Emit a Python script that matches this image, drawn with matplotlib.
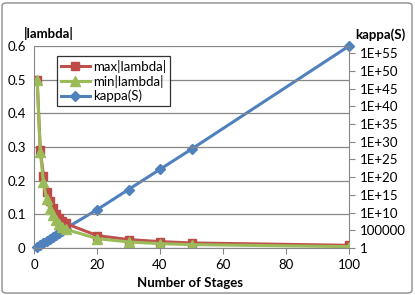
import matplotlib
matplotlib.use("Agg")
import matplotlib.pyplot as plt
from matplotlib.patches import FancyBboxPatch
import numpy as np

stages = [1, 2, 3, 4, 5, 6, 7, 8, 9, 10, 20, 30, 40, 50, 100]
max_lambda = [0.5, 0.29, 0.215, 0.165, 0.14, 0.12, 0.102, 0.09, 0.08, 0.073,
              0.037, 0.025, 0.019, 0.015, 0.008]
min_lambda = [0.5, 0.285, 0.195, 0.145, 0.117, 0.097, 0.082, 0.07, 0.062, 0.056,
              0.028, 0.018, 0.013, 0.010, 0.004]
kappa_log10 = [0.3, 0.9, 1.5, 2.0, 2.6, 3.2, 3.7, 4.3, 4.9, 5.5,
               10.8, 16.5, 22.2, 27.9, 57.0]
kappa = [10.0 ** v for v in kappa_log10]

left_ticks = [0, 0.1, 0.2, 0.3, 0.4, 0.5, 0.6]
left_labels = ["0", "0.1", "0.2", "0.3", "0.4", "0.5", "0.6"]
right_exps = list(range(0, 60, 5))
right_labels = ["1", "100000"] + ["1E+%d" % e for e in right_exps[2:]]
x_ticks = [0, 20, 40, 60, 80, 100]

plt.rcParams['font.family'] = ['Lato', 'DejaVu Sans']
W, H = 415, 295
fig = plt.figure(figsize=(W / 100, H / 100), dpi=100)
fig.patch.set_facecolor('white')
fig.patches.append(FancyBboxPatch((2 / W, 2 / H), (W - 5) / W, (H - 5) / H,
                                  boxstyle="round,pad=0,rounding_size=0.01",
                                  transform=fig.transFigure, fill=False,
                                  edgecolor='#8c8c8c', linewidth=1.0))

l, r, t, b = 34, 349, 46, 248
ax = fig.add_axes([l / W, 1 - b / H, (r - l) / W, (b - t) / H])
ax2 = ax.twinx()

red = '#C0504D'
green = '#9BBB59'
blue = '#4F81BD'
fs = 9.5

ax.set_xlim(0, 100)
ax.set_ylim(0, 0.6)
ax.set_yticks(left_ticks)
ax.set_yticklabels(left_labels, fontsize=fs)
ax.set_xticks(x_ticks)
ax.set_xticklabels([str(v) for v in x_ticks], fontsize=fs)
ax.grid(axis='y', color='#878787', linewidth=0.9)
ax.set_axisbelow(True)
for s in ['top', 'right']:
    ax.spines[s].set_visible(False)
ax.spines['left'].set_color('#878787')
ax.spines['bottom'].set_color('#878787')
ax.tick_params(axis='y', length=0, pad=6)
ax.tick_params(axis='x', length=4, color='#878787', pad=4, direction='out')

l1, = ax.plot(stages, max_lambda, color=red, marker='s', markersize=6,
              markerfacecolor='#BE4B48', markeredgecolor='#BE4B48', linewidth=2.2,
              label='max|lambda|')
l2, = ax.plot(stages, min_lambda, color=green, marker='^', markersize=6.5,
              markerfacecolor=green, markeredgecolor=green, linewidth=2.2,
              label='min|lambda|')

ax2.set_yscale('log')
ax2.set_ylim(1, 10.0 ** 57)
ax2.set_yticks([10.0 ** e for e in right_exps])
ax2.set_yticklabels(right_labels, fontsize=fs)
ax2.yaxis.set_minor_locator(matplotlib.ticker.NullLocator())
for s in ['top', 'left', 'bottom']:
    ax2.spines[s].set_visible(False)
ax2.spines['right'].set_color('#878787')
ax2.tick_params(axis='y', length=4, color='#878787', pad=4)
l3, = ax2.plot(stages, kappa, color=blue, marker='D', markersize=5,
               markerfacecolor=blue, markeredgecolor=blue, linewidth=2.2,
               label='kappa(S)', clip_on=False)

ax.set_zorder(ax2.get_zorder() + 1)
ax.patch.set_visible(False)

leg = ax.legend(handles=[l1, l2, l3], loc='upper left',
                bbox_to_anchor=((57 - l) / (r - l), (b - 56) / (b - t)),
                fontsize=fs, frameon=True, fancybox=False, borderpad=0.3,
                labelspacing=0.15, handlelength=2.2, handletextpad=0.2,
                borderaxespad=0)
leg.get_frame().set_edgecolor('black')
leg.get_frame().set_linewidth(0.9)

fig.text(24 / W, 1 - 33 / H, '|lambda|', fontsize=fs, fontweight='bold',
         ha='left', va='center')
fig.text(380 / W, 1 - 35 / H, 'kappa(S)', fontsize=fs, fontweight='bold',
         ha='center', va='center')
fig.text(190 / W, 1 - 283 / H, 'Number of Stages', fontsize=fs, fontweight='bold',
         ha='center', va='center')

fig.savefig('out.png', dpi=100)
